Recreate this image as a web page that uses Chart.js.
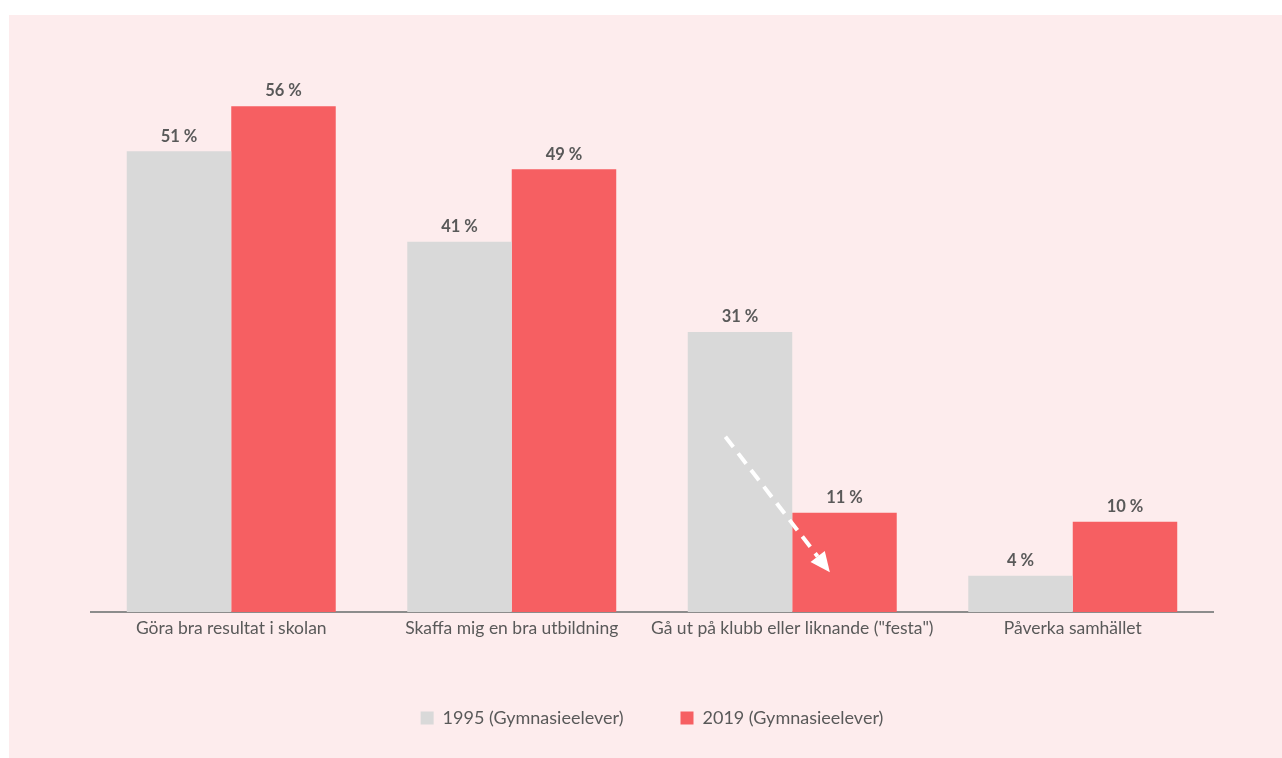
<!DOCTYPE html>
<html>
<head>
<meta charset="utf-8">
<script src="https://cdn.jsdelivr.net/npm/chart.js@4"></script>
<style>
  html, body { margin: 0; padding: 0; background: #ffffff; }
  #panel { position: absolute; left: 9px; top: 15px; width: 1273px; height: 743px; background: #fdeced; }
  #wrap { position: absolute; left: 0; top: 0; width: 1282px; height: 758px; }
</style>
</head>
<body>
<div id="panel"></div>
<div id="wrap"><canvas id="c"></canvas></div>
<script>
// Survey answers, share of upper-secondary students (percent)
const categories = [
  'Göra bra resultat i skolan',
  'Skaffa mig en bra utbildning',
  'Gå ut på klubb eller liknande ("festa")',
  'Påverka samhället'
];
const seriesNames = ['1995 (Gymnasieelever)', '2019 (Gymnasieelever)'];
const values1995 = [51, 41, 31, 4];
const values2019 = [56, 49, 11, 10];
const yMax = 60;

// Trend arrow for the "festa" answer, from the 1995 bar down into the 2019 bar (percent levels)
const trendCategory = 2;
const trendFrom = 19.4;
const trendTo = 4.4;

const FONT = 'Lato';
const TEXT = '#595959';

const valueLabels = {
  id: 'valueLabels',
  afterDatasetsDraw(chart) {
    const ctx = chart.ctx;
    ctx.save();
    ctx.font = 'bold 16.5px ' + FONT;
    ctx.fillStyle = TEXT;
    ctx.textAlign = 'center';
    ctx.textBaseline = 'middle';
    chart.data.datasets.forEach((ds, di) => {
      const meta = chart.getDatasetMeta(di);
      meta.data.forEach((bar, i) => {
        ctx.fillText(ds.data[i] + ' %', bar.x, bar.y - 15);
      });
    });
    ctx.restore();
  }
};

const trendArrow = {
  id: 'trendArrow',
  afterDatasetsDraw(chart) {
    const y = chart.scales.y;
    const b0 = chart.getDatasetMeta(0).data[trendCategory];
    const b1 = chart.getDatasetMeta(1).data[trendCategory];
    const x0 = b0.x - 0.14 * b0.width, y0 = y.getPixelForValue(trendFrom);
    const x1 = b1.x - 0.14 * b1.width, y1 = y.getPixelForValue(trendTo);
    const ang = Math.atan2(y1 - y0, x1 - x0);
    const headLen = 20, headHalf = 9;
    const bx = x1 - headLen * Math.cos(ang), by = y1 - headLen * Math.sin(ang);
    const ctx = chart.ctx;
    ctx.save();
    ctx.strokeStyle = '#ffffff';
    ctx.fillStyle = '#ffffff';
    ctx.lineWidth = 4;
    ctx.setLineDash([13, 8]);
    ctx.beginPath();
    ctx.moveTo(x0, y0);
    ctx.lineTo(bx, by);
    ctx.stroke();
    ctx.setLineDash([]);
    ctx.beginPath();
    ctx.moveTo(x1, y1);
    ctx.lineTo(bx + headHalf * Math.sin(ang), by - headHalf * Math.cos(ang));
    ctx.lineTo(bx - headHalf * Math.sin(ang), by + headHalf * Math.cos(ang));
    ctx.closePath();
    ctx.fill();
    ctx.restore();
  }
};

new Chart(document.getElementById('c'), {
  type: 'bar',
  data: {
    labels: categories,
    datasets: [
      { label: seriesNames[0], data: values1995, backgroundColor: '#d9d9d9' },
      { label: seriesNames[1], data: values2019, backgroundColor: '#f65f62' }
    ]
  },
  options: {
    responsive: true,
    maintainAspectRatio: false,
    animation: false,
    datasets: { bar: { categoryPercentage: 0.745, barPercentage: 1.0 } },
    layout: { padding: { left: 91, right: 69, top: 70, bottom: 21 } },
    scales: {
      x: {
        grid: { display: false, drawTicks: false },
        border: { display: true, color: '#8c8c8c', width: 2 },
        ticks: {
          color: TEXT,
          font: { family: FONT, size: 17.5 },
          padding: 6,
          maxRotation: 0,
          minRotation: 0,
          autoSkip: false
        },
        afterFit(scale) { scale.height = 40; }
      },
      y: {
        display: false,
        min: 0,
        max: yMax
      }
    },
    plugins: {
      legend: {
        position: 'bottom',
        labels: {
          color: TEXT,
          font: { family: FONT, size: 18 },
          boxWidth: 13,
          boxHeight: 13,
          padding: 57
        }
      },
      tooltip: { enabled: false }
    }
  },
  plugins: [valueLabels, trendArrow]
});
</script>
</body>
</html>
